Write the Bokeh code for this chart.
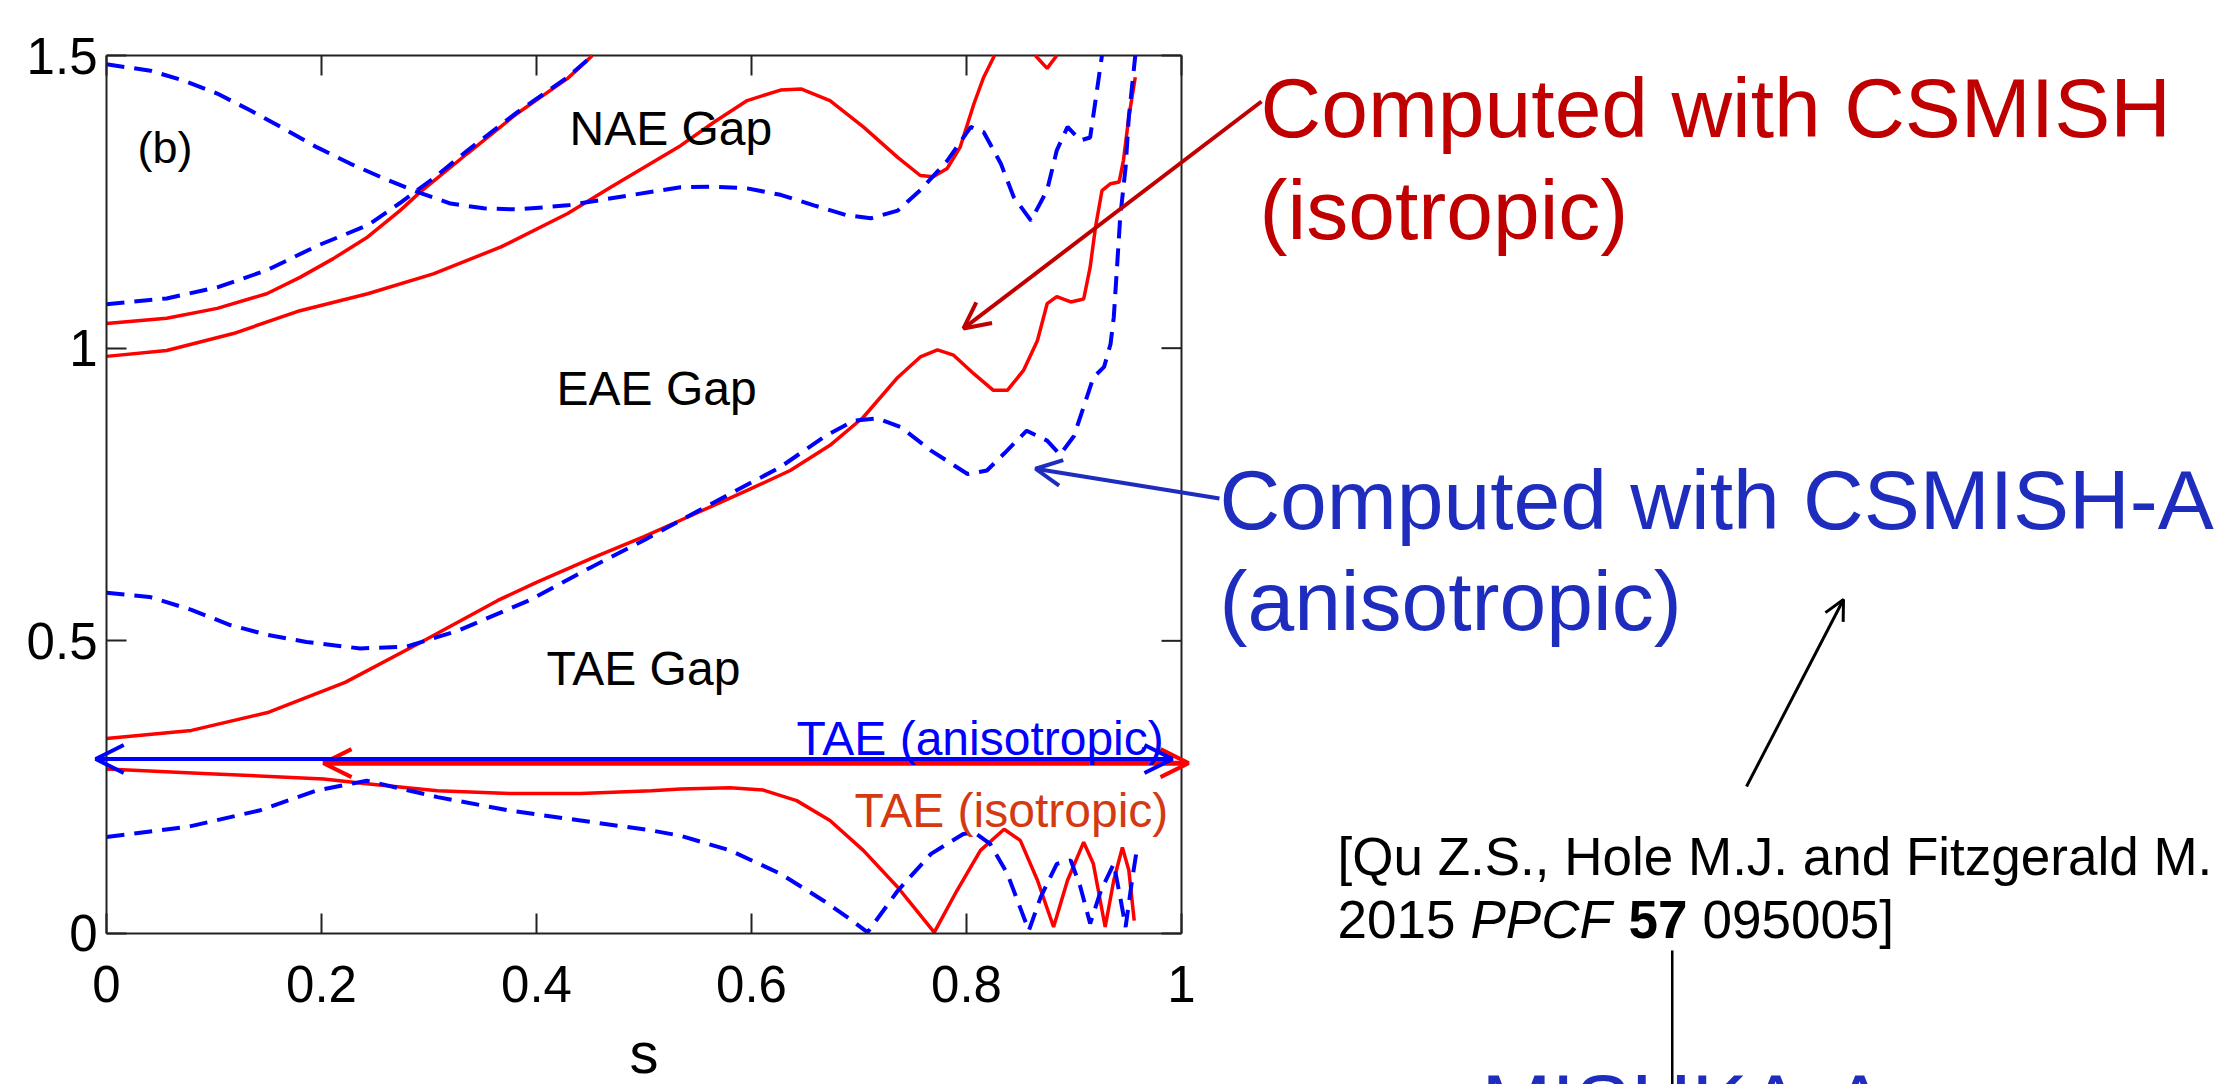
from bokeh.plotting import figure
from bokeh.models import Range1d, FixedTicker, Label, Arrow, OpenHead
from bokeh.embed import file_html
from bokeh.resources import INLINE

# ---- Shear Alfvén continuum branches: normalised frequency vs radial coordinate s ----
# Isotropic equilibrium (CSMISH): solid red
iso_tae_lower_s = [0.0, 0.095, 0.202, 0.242, 0.308, 0.375, 0.441, 0.507, 0.534, 0.58, 0.611, 0.642,
                   0.673, 0.704, 0.736, 0.751, 0.770, 0.791, 0.813, 0.835, 0.85, 0.866, 0.881, 0.894,
                   0.909, 0.918, 0.929, 0.937, 0.945, 0.951, 0.956]
iso_tae_lower_w = [0.281, 0.273, 0.264, 0.256, 0.244, 0.239, 0.239, 0.244, 0.247, 0.249, 0.245, 0.227,
                   0.193, 0.142, 0.079, 0.045, 0.002, 0.073, 0.142, 0.178, 0.159, 0.091, 0.011, 0.091,
                   0.156, 0.119, 0.011, 0.091, 0.147, 0.108, 0.022]

iso_tae_upper_s = [0.0, 0.079, 0.151, 0.222, 0.293, 0.364, 0.40, 0.45, 0.50, 0.534, 0.596, 0.636, 0.673,
                   0.704, 0.736, 0.757, 0.773, 0.788, 0.807, 0.825, 0.838, 0.853, 0.866, 0.875, 0.884,
                   0.897, 0.909, 0.915, 0.92, 0.926, 0.934, 0.942, 0.946, 0.951, 0.957]
iso_tae_upper_w = [0.333, 0.347, 0.378, 0.429, 0.498, 0.569, 0.60, 0.64, 0.678, 0.706, 0.757, 0.791, 0.834,
                   0.882, 0.95, 0.985, 0.997, 0.988, 0.956, 0.928, 0.928, 0.962, 1.013, 1.076, 1.088,
                   1.079, 1.084, 1.138, 1.207, 1.269, 1.281, 1.284, 1.321, 1.395, 1.463]

iso_eae_upper_s = [0.0, 0.056, 0.118, 0.18, 0.243, 0.304, 0.367, 0.429, 0.469, 0.534, 0.565, 0.596, 0.627,
                   0.646, 0.673, 0.704, 0.736, 0.757, 0.769, 0.782, 0.794, 0.807, 0.816, 0.826]
iso_eae_upper_w = [0.986, 0.996, 1.025, 1.064, 1.093, 1.127, 1.173, 1.23, 1.275, 1.346, 1.386, 1.423, 1.441,
                   1.443, 1.423, 1.378, 1.326, 1.295, 1.293, 1.307, 1.343, 1.418, 1.463, 1.5]

iso_nae_lower_s = [0.0, 0.056, 0.103, 0.149, 0.18, 0.211, 0.243, 0.273, 0.292, 0.336, 0.382, 0.429, 0.452]
iso_nae_lower_w = [1.042, 1.051, 1.068, 1.093, 1.121, 1.153, 1.19, 1.235, 1.267, 1.333, 1.401, 1.461, 1.5]

iso_edge_s = [0.864, 0.875, 0.884]
iso_edge_w = [1.5, 1.478, 1.5]

# Anisotropic equilibrium (CSMISH-A): dashed blue
aniso_tae_lower_s = [0.0, 0.075, 0.142, 0.195, 0.242, 0.308, 0.375, 0.441, 0.507, 0.534, 0.58, 0.627, 0.667,
                     0.689, 0.708, 0.736, 0.767, 0.797, 0.807, 0.822, 0.838, 0.858, 0.869, 0.884, 0.897,
                     0.906, 0.915, 0.925, 0.937, 0.943, 0.948, 0.954, 0.959]
aniso_tae_lower_w = [0.165, 0.182, 0.21, 0.244, 0.261, 0.233, 0.21, 0.193, 0.176, 0.167, 0.142, 0.102, 0.056,
                     0.028, 0.002, 0.073, 0.136, 0.17, 0.173, 0.153, 0.102, 0.005, 0.062, 0.119, 0.125,
                     0.079, 0.017, 0.073, 0.119, 0.062, 0.011, 0.091, 0.15]

aniso_tae_upper_s = [0.0, 0.04, 0.079, 0.115, 0.15, 0.186, 0.236, 0.279, 0.328, 0.393, 0.45, 0.50, 0.534,
                     0.58, 0.627, 0.667, 0.695, 0.717, 0.739, 0.767, 0.801, 0.819, 0.835, 0.856, 0.875,
                     0.887, 0.9, 0.911, 0.918, 0.928, 0.934, 0.937, 0.94, 0.943, 0.948, 0.951, 0.957]
aniso_tae_upper_w = [0.582, 0.575, 0.553, 0.527, 0.51, 0.498, 0.487, 0.49, 0.518, 0.569, 0.625, 0.672, 0.706,
                     0.751, 0.797, 0.848, 0.876, 0.88, 0.865, 0.825, 0.785, 0.791, 0.82, 0.859, 0.842,
                     0.818, 0.85, 0.911, 0.95, 0.968, 1.007, 1.053, 1.138, 1.224, 1.309, 1.395, 1.5]

aniso_nae_lower_s = [0.0, 0.056, 0.103, 0.149, 0.196, 0.243, 0.273, 0.304, 0.336, 0.382, 0.429, 0.452]
aniso_nae_lower_w = [1.075, 1.085, 1.104, 1.133, 1.175, 1.21, 1.248, 1.29, 1.338, 1.403, 1.463, 1.5]

aniso_eae_upper_s = [0.0, 0.041, 0.072, 0.103, 0.134, 0.165, 0.196, 0.227, 0.258, 0.289, 0.32, 0.351, 0.382,
                     0.429, 0.466, 0.534, 0.565, 0.596, 0.627, 0.658, 0.689, 0.711, 0.736, 0.757, 0.782,
                     0.804, 0.816, 0.832, 0.844, 0.86, 0.875, 0.884, 0.894, 0.906, 0.915, 0.92, 0.926]
aniso_eae_upper_w = [1.485, 1.474, 1.457, 1.435, 1.406, 1.375, 1.343, 1.315, 1.29, 1.267, 1.247, 1.239, 1.237,
                     1.244, 1.255, 1.275, 1.276, 1.273, 1.262, 1.244, 1.227, 1.222, 1.235, 1.27, 1.32,
                     1.378, 1.369, 1.315, 1.258, 1.218, 1.27, 1.338, 1.378, 1.355, 1.36, 1.423, 1.5]

# TAE eigenfrequencies and their radial extent
tae_aniso_freq = 0.298
tae_aniso_extent = [-0.010, 0.9916]
tae_iso_freq = 0.291
tae_iso_extent = [0.2019, 1.0065]

# Axis ticks
x_ticks = [0, 0.2, 0.4, 0.6, 0.8, 1]
x_tick_labels = ["0", "0.2", "0.4", "0.6", "0.8", "1"]
y_ticks = [0, 0.5, 1, 1.5]
y_tick_labels = ["0", "0.5", "1", "1.5"]
s_bounds = (0, 1)
w_bounds = (0, 1.5)

FONT = "Liberation Sans"
RED = "#FF0000"
BLUE = "#0000FF"
DARK_RED = "#C00000"
SLIDE_BLUE = "#1E2DBE"
FRAME = "#222222"

# The frame spans the whole slide so that the callouts beside the panel are not clipped;
# the panel's own axes sit at s = 0 and omega = 0.
p = figure(width=2240, height=1084, x_range=Range1d(-0.0986, 1.9851), y_range=Range1d(-0.258, 1.594),
           output_backend="svg", toolbar_location=None, min_border=0)
p.background_fill_color = "white"
p.border_fill_color = "white"
p.outline_line_color = None
p.xgrid.grid_line_color = None
p.ygrid.grid_line_color = None


def style_axis(ax, ticks, labels, bounds, standoff):
    ax.fixed_location = 0
    ax.bounds = bounds
    ax.ticker = FixedTicker(ticks=ticks)
    ax.major_label_overrides = dict(zip(ticks, labels))
    ax.major_tick_in = 20
    ax.major_tick_out = 0
    ax.minor_tick_line_color = None
    ax.axis_line_width = 2
    ax.axis_line_color = FRAME
    ax.major_tick_line_width = 2
    ax.major_tick_line_color = FRAME
    ax.major_label_text_font = FONT
    ax.major_label_text_color = "black"
    ax.major_label_text_font_size = "51px"
    ax.major_label_standoff = standoff


style_axis(p.xaxis[0], x_ticks, x_tick_labels, s_bounds, 33)
style_axis(p.yaxis[0], y_ticks, y_tick_labels, w_bounds, 9)
p.xaxis[0].axis_label = "s"
p.xaxis[0].axis_label_text_font = FONT
p.xaxis[0].axis_label_text_font_size = "58px"
p.xaxis[0].axis_label_text_font_style = "normal"
p.xaxis[0].axis_label_text_color = "black"
p.xaxis[0].axis_label_standoff = 14

# Box edges on the top and right, with inward ticks
tick_len_s = 20 / 1075
tick_len_w = 20 / 585.3
p.segment(x0=[s_bounds[0], s_bounds[1]], y0=[w_bounds[1], w_bounds[0]],
          x1=[s_bounds[1], s_bounds[1]], y1=[w_bounds[1], w_bounds[1]],
          line_color=FRAME, line_width=2)
p.segment(x0=x_ticks, y0=[w_bounds[1]] * len(x_ticks), x1=x_ticks, y1=[w_bounds[1] - tick_len_w] * len(x_ticks),
          line_color=FRAME, line_width=2)
p.segment(x0=[s_bounds[1]] * len(y_ticks), y0=y_ticks, x1=[s_bounds[1] - tick_len_s] * len(y_ticks), y1=y_ticks,
          line_color=FRAME, line_width=2)

# Continuum branches
for xs, ys in [(iso_tae_lower_s, iso_tae_lower_w), (iso_tae_upper_s, iso_tae_upper_w),
               (iso_eae_upper_s, iso_eae_upper_w), (iso_nae_lower_s, iso_nae_lower_w),
               (iso_edge_s, iso_edge_w)]:
    p.line(xs, ys, line_color=RED, line_width=3.5)

for xs, ys in [(aniso_tae_lower_s, aniso_tae_lower_w), (aniso_tae_upper_s, aniso_tae_upper_w),
               (aniso_nae_lower_s, aniso_nae_lower_w), (aniso_eae_upper_s, aniso_eae_upper_w)]:
    p.line(xs, ys, line_color=BLUE, line_width=4, line_dash="18 10")

# TAE frequencies, drawn as double-headed arrows across their radial extent
p.add_layout(Arrow(x_start=tae_iso_extent[0], x_end=tae_iso_extent[1], y_start=tae_iso_freq, y_end=tae_iso_freq,
                   line_color=RED, line_width=5,
                   start=OpenHead(size=28, line_color=RED, line_width=4),
                   end=OpenHead(size=28, line_color=RED, line_width=4)))
p.add_layout(Arrow(x_start=tae_aniso_extent[0], x_end=tae_aniso_extent[1], y_start=tae_aniso_freq, y_end=tae_aniso_freq,
                   line_color=BLUE, line_width=4,
                   start=OpenHead(size=28, line_color=BLUE, line_width=4),
                   end=OpenHead(size=28, line_color=BLUE, line_width=4)))


def add_label(x, y, text, size, color="black", style="normal", x_offset=0):
    # (x, y) is the start of the text's baseline; the offset lifts the glyph box onto it
    p.add_layout(Label(x=x, y=y, text=text, x_offset=x_offset, y_offset=round(0.35 * size),
                       text_font=FONT, text_font_size=f"{size}px",
                       text_color=color, text_font_style=style, text_align="left",
                       text_baseline="alphabetic"))


# Panel annotations
add_label(0.0288, 1.3156, "(b)", 45)
add_label(0.4307, 1.3463, "NAE Gap", 48)
add_label(0.4186, 0.9021, "EAE Gap", 48)
add_label(0.4093, 0.4237, "TAE Gap", 48)
add_label(0.6419, 0.3041, "TAE (anisotropic)", 48, BLUE)
add_label(0.6958, 0.1811, "TAE (isotropic)", 48, "#D43A12")

# Callouts beside the panel
add_label(1.0735, 1.3601, "Computed with CSMISH", 84, DARK_RED)
add_label(1.0726, 1.1857, "(isotropic)", 84, DARK_RED)
add_label(1.0353, 0.6903, "Computed with CSMISH-A", 84, SLIDE_BLUE)
add_label(1.0353, 0.5177, "(anisotropic)", 84, SLIDE_BLUE)
add_label(1.1451, 0.0991, "[Qu Z.S., Hole M.J. and Fitzgerald M.", 53)
add_label(1.1451, -0.0085, "2015", 53)
add_label(1.1451, -0.0085, "PPCF", 53, style="italic", x_offset=133)
add_label(1.1451, -0.0085, "57", 53, style="bold", x_offset=291)
add_label(1.1451, -0.0085, "095005]", 53, x_offset=365)
add_label(1.2791, -0.3417, "MISHKA-A", 84, SLIDE_BLUE)

p.add_layout(Arrow(x_start=1.0744, y_start=1.4215, x_end=0.7972, y_end=1.0337,
                   line_color=DARK_RED, line_width=4,
                   end=OpenHead(size=26, line_color=DARK_RED, line_width=4)))
p.add_layout(Arrow(x_start=1.0353, y_start=0.7432, x_end=0.8642, y_end=0.794,
                   line_color=SLIDE_BLUE, line_width=4,
                   end=OpenHead(size=26, line_color=SLIDE_BLUE, line_width=4)))
p.add_layout(Arrow(x_start=1.5256, y_start=0.2512, x_end=1.6158, y_end=0.5706,
                   line_color="black", line_width=3,
                   end=OpenHead(size=20, line_color="black", line_width=3)))
p.add_layout(Arrow(x_start=1.4565, y_start=-0.029, x_end=1.4565, y_end=-0.30,
                   line_color="black", line_width=2.5, end=None))

open("out.html", "w").write(file_html(p, INLINE))
